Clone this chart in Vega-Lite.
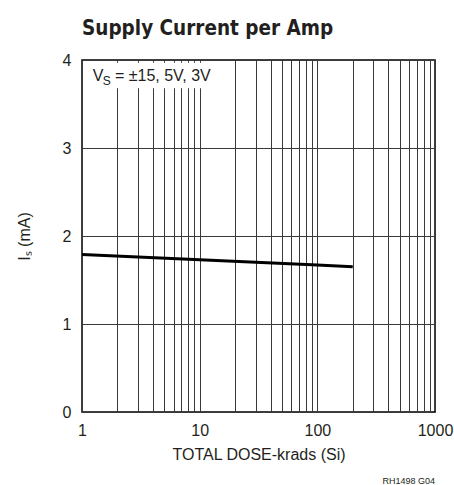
{
  "$schema": "https://vega.github.io/schema/vega-lite/v6.json",
  "width": 353,
  "height": 352,
  "autosize": {"type": "none"},
  "padding": {"left": 82, "top": 60, "right": 19, "bottom": 73},
  "background": "white",
  "title": {
    "text": "Supply Current per Amp",
    "anchor": "start",
    "frame": "group",
    "font": "DejaVu Sans Condensed, Liberation Sans",
    "fontSize": 20.5,
    "fontWeight": "bold",
    "color": "#231f20",
    "offset": 13
  },
  "config": {
    "view": {"stroke": "#000000", "strokeWidth": 1.5},
    "font": "Liberation Sans",
    "axis": {
      "labelFont": "Liberation Sans",
      "titleFont": "Liberation Sans",
      "labelFontSize": 16,
      "titleFontSize": 16,
      "labelColor": "#231f20",
      "titleColor": "#231f20",
      "titleFontWeight": "normal",
      "ticks": false,
      "domain": false,
      "gridColor": "#3a3a3a",
      "gridWidth": 1,
      "gridOpacity": 1
    }
  },
  "data": {
    "values": [
      {"dose": 1, "current": 1.79},
      {"dose": 10, "current": 1.73},
      {"dose": 100, "current": 1.67},
      {"dose": 200, "current": 1.65}
    ]
  },
  "layer": [
    {
      "mark": {"type": "line", "color": "#000000", "strokeWidth": 3},
      "encoding": {
        "x": {
          "field": "dose",
          "type": "quantitative",
          "scale": {"type": "log", "domain": [1, 1000], "nice": false},
          "axis": {
            "title": "TOTAL DOSE-krads (Si)",
            "values": [1,2,3,4,5,6,7,8,9,10,20,30,40,50,60,70,80,90,100,200,300,400,500,600,700,800,900,1000],
            "format": "d",
            "labelExpr": "indexof([1,10,100,1000], datum.value) >= 0 ? datum.label : ''",
            "labelFlush": false,
            "labelOverlap": false,
            "labelBound": false,
            "labelPadding": 10,
            "titlePadding": 8
          }
        },
        "y": {
          "field": "current",
          "type": "quantitative",
          "scale": {"domain": [0, 4], "nice": false},
          "axis": {
            "title": "Iₛ (mA)",
            "values": [0, 0.5, 1, 1.5, 2, 2.5, 3, 3.5, 4],
            "format": "d",
            "labelExpr": "datum.value % 1 == 0 ? datum.label : ''",
            "labelPadding": 11,
            "titlePadding": 30
          }
        }
      }
    },
    {
      "data": {"values": [{"t": "box"}]},
      "mark": {"type": "rect", "color": "white", "opacity": 1},
      "encoding": {
        "x": {"datum": 1.02, "type": "quantitative"},
        "x2": {"datum": 15.5},
        "y": {"datum": 3.68, "type": "quantitative"},
        "y2": {"datum": 3.97}
      }
    },
    {
      "data": {"values": [{"t": "V"}]},
      "mark": {"type": "text", "align": "left", "baseline": "alphabetic", "fontSize": 16, "color": "#231f20"},
      "encoding": {
        "x": {"datum": 1.233, "type": "quantitative"},
        "y": {"datum": 3.761, "type": "quantitative"},
        "text": {"field": "t"}
      }
    },
    {
      "data": {"values": [{"t": "S"}]},
      "mark": {"type": "text", "align": "left", "baseline": "alphabetic", "fontSize": 12, "color": "#231f20"},
      "encoding": {
        "x": {"datum": 1.5, "type": "quantitative"},
        "y": {"datum": 3.716, "type": "quantitative"},
        "text": {"field": "t"}
      }
    },
    {
      "data": {"values": [{"t": "= ±15, 5V, 3V"}]},
      "mark": {"type": "text", "align": "left", "baseline": "alphabetic", "fontSize": 16, "color": "#231f20"},
      "encoding": {
        "x": {"datum": 1.906, "type": "quantitative"},
        "y": {"datum": 3.761, "type": "quantitative"},
        "text": {"field": "t"}
      }
    },
    {
      "data": {"values": [{"t": "RH1498 G04"}]},
      "mark": {"type": "text", "align": "right", "baseline": "alphabetic", "fontSize": 9, "color": "#231f20"},
      "encoding": {
        "x": {"datum": 1000, "type": "quantitative"},
        "y": {"datum": -0.818, "type": "quantitative"},
        "text": {"field": "t"}
      }
    }
  ]
}
